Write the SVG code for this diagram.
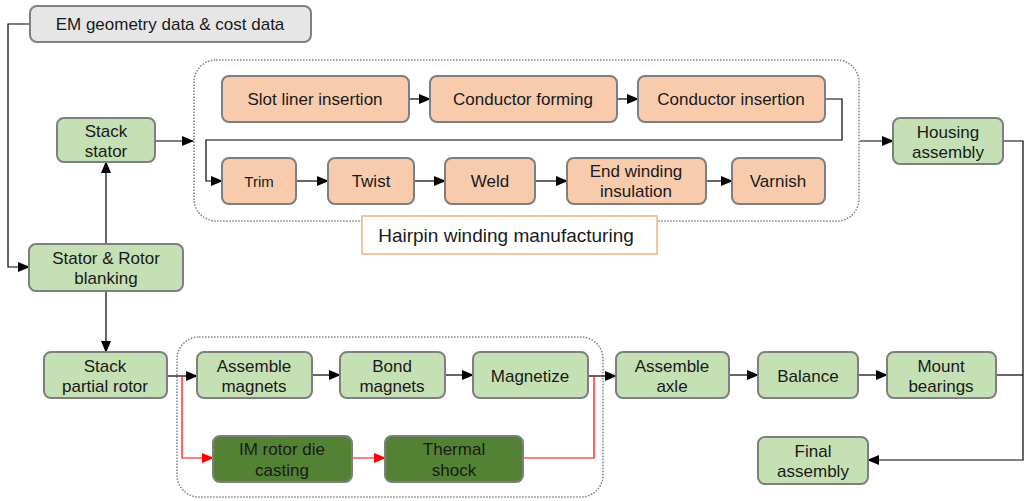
<svg xmlns="http://www.w3.org/2000/svg" width="1025" height="501" viewBox="0 0 1025 501">
<style>
text{font-family:"Liberation Sans",Arial,sans-serif;font-size:17px;fill:#1a1a1a;text-anchor:middle}
.b{stroke:#7f7f7f;stroke-width:2}
.g{fill:#c5e0b4}
.o{fill:#f8cbad}
.d{fill:#548235}
.e{fill:#e7e6e6}
.c{fill:none;stroke:#000;stroke-width:1.2}
.r{fill:none;stroke:#ff0000;stroke-width:1.2}
.dot{fill:none;stroke:#808080;stroke-width:1.5;stroke-dasharray:1.5 1.5}
</style>
<defs>
<marker id="a" markerUnits="userSpaceOnUse" markerWidth="12" markerHeight="10" refX="11" refY="5" orient="auto"><path d="M0,0 L12,5 L0,10 z" fill="#000"/></marker>
<marker id="ar" markerUnits="userSpaceOnUse" markerWidth="12" markerHeight="10" refX="11" refY="5" orient="auto"><path d="M0,0 L12,5 L0,10 z" fill="#ff0000"/></marker>
</defs>
<g id="containers">
<rect id="hairpin-group" class="dot" x="194" y="60" width="665" height="161" rx="22"/>
<rect id="rotor-group" class="dot" x="177" y="337" width="426" height="160" rx="22"/>
</g>
<g id="connectors">
<path class="c" d="M30,24 H8 V267 H29" marker-end="url(#a)"/>
<path class="c" d="M106,244 V162" marker-end="url(#a)"/>
<path class="c" d="M106,291 V352" marker-end="url(#a)"/>
<path class="c" d="M155,141 H193" marker-end="url(#a)"/>
<path class="c" d="M409,99 H430" marker-end="url(#a)"/>
<path class="c" d="M617,99 H638" marker-end="url(#a)"/>
<path class="c" d="M825,99 H842 V140 H206 V181 H222" marker-end="url(#a)"/>
<path class="c" d="M296,181 H328" marker-end="url(#a)"/>
<path class="c" d="M414,181 H445" marker-end="url(#a)"/>
<path class="c" d="M535,181 H567" marker-end="url(#a)"/>
<path class="c" d="M706,181 H732" marker-end="url(#a)"/>
<path class="c" d="M860,141 H893" marker-end="url(#a)"/>
<path class="c" d="M1003,141 H1023 V460 H868" marker-end="url(#a)"/>
<path class="c" d="M996,375 H1023"/>
<path class="c" d="M167,376 H197" marker-end="url(#a)"/>
<path class="c" d="M312,375 H340" marker-end="url(#a)"/>
<path class="c" d="M445,375 H473" marker-end="url(#a)"/>
<path class="c" d="M588,376 H616" marker-end="url(#a)"/>
<path class="c" d="M729,375 H758" marker-end="url(#a)"/>
<path class="c" d="M858,375 H887" marker-end="url(#a)"/>
<path class="r" d="M182,376 V458 H213" marker-end="url(#ar)"/>
<path class="r" d="M352,458 H385" marker-end="url(#ar)"/>
<path class="r" d="M523,458 H594 V376"/>
</g>
<g id="em-data"><rect class="b e" x="30" y="6" width="281" height="36" rx="7"/><text x="170" y="30">EM geometry data &amp; cost data</text></g>
<g id="stack-stator"><rect class="b g" x="57" y="118" width="98" height="44" rx="7"/><text x="106" y="137">Stack</text><text x="106" y="157">stator</text></g>
<g id="blanking"><rect class="b g" x="29" y="244" width="154" height="47" rx="7"/><text x="106" y="264">Stator &amp; Rotor</text><text x="106" y="284">blanking</text></g>
<g id="stack-rotor"><rect class="b g" x="44" y="352" width="123" height="46" rx="7"/><text x="105" y="372">Stack</text><text x="105" y="392">partial rotor</text></g>
<g id="slot-liner"><rect class="b o" x="222" y="76" width="187" height="46" rx="7"/><text x="315" y="105">Slot liner insertion</text></g>
<g id="cond-forming"><rect class="b o" x="430" y="76" width="187" height="46" rx="7"/><text x="523" y="105">Conductor forming</text></g>
<g id="cond-insertion"><rect class="b o" x="638" y="76" width="187" height="46" rx="7"/><text x="731" y="105">Conductor insertion</text></g>
<g id="trim"><rect class="b o" x="222" y="158" width="74" height="46" rx="7"/><text x="259" y="187" style="font-size:15px">Trim</text></g>
<g id="twist"><rect class="b o" x="328" y="158" width="86" height="46" rx="7"/><text x="371" y="187">Twist</text></g>
<g id="weld"><rect class="b o" x="445" y="158" width="90" height="46" rx="7"/><text x="490" y="187">Weld</text></g>
<g id="end-winding"><rect class="b o" x="567" y="158" width="139" height="46" rx="7"/><text x="636" y="177">End winding</text><text x="636" y="197">insulation</text></g>
<g id="varnish"><rect class="b o" x="732" y="158" width="93" height="46" rx="7"/><text x="778" y="187">Varnish</text></g>
<g id="hairpin-label"><rect x="362" y="216" width="295" height="38" fill="#fff" stroke="#f4b183" stroke-width="1.5"/><text x="506" y="242" style="font-size:19px">Hairpin winding manufacturing</text></g>
<g id="housing"><rect class="b g" x="893" y="118" width="110" height="46" rx="7"/><text x="948" y="138">Housing</text><text x="948" y="158">assembly</text></g>
<g id="assemble-magnets"><rect class="b g" x="197" y="352" width="115" height="46" rx="7"/><text x="254" y="372">Assemble</text><text x="254" y="392">magnets</text></g>
<g id="bond-magnets"><rect class="b g" x="340" y="352" width="105" height="46" rx="7"/><text x="392" y="372">Bond</text><text x="392" y="392">magnets</text></g>
<g id="magnetize"><rect class="b g" x="473" y="352" width="115" height="46" rx="7"/><text x="530" y="382">Magnetize</text></g>
<g id="im-rotor"><rect class="b d" x="213" y="436" width="139" height="46" rx="7"/><text x="282" y="455">IM rotor die</text><text x="282" y="476">casting</text></g>
<g id="thermal-shock"><rect class="b d" x="385" y="436" width="138" height="46" rx="7"/><text x="454" y="455">Thermal</text><text x="454" y="476">shock</text></g>
<g id="assemble-axle"><rect class="b g" x="616" y="352" width="113" height="46" rx="7"/><text x="672" y="372">Assemble</text><text x="672" y="392">axle</text></g>
<g id="balance"><rect class="b g" x="758" y="352" width="100" height="46" rx="7"/><text x="808" y="382">Balance</text></g>
<g id="mount-bearings"><rect class="b g" x="887" y="352" width="109" height="46" rx="7"/><text x="941" y="372">Mount</text><text x="941" y="392">bearings</text></g>
<g id="final-assembly"><rect class="b g" x="758" y="437" width="110" height="47" rx="7"/><text x="813" y="457">Final</text><text x="813" y="477">assembly</text></g>
</svg>
